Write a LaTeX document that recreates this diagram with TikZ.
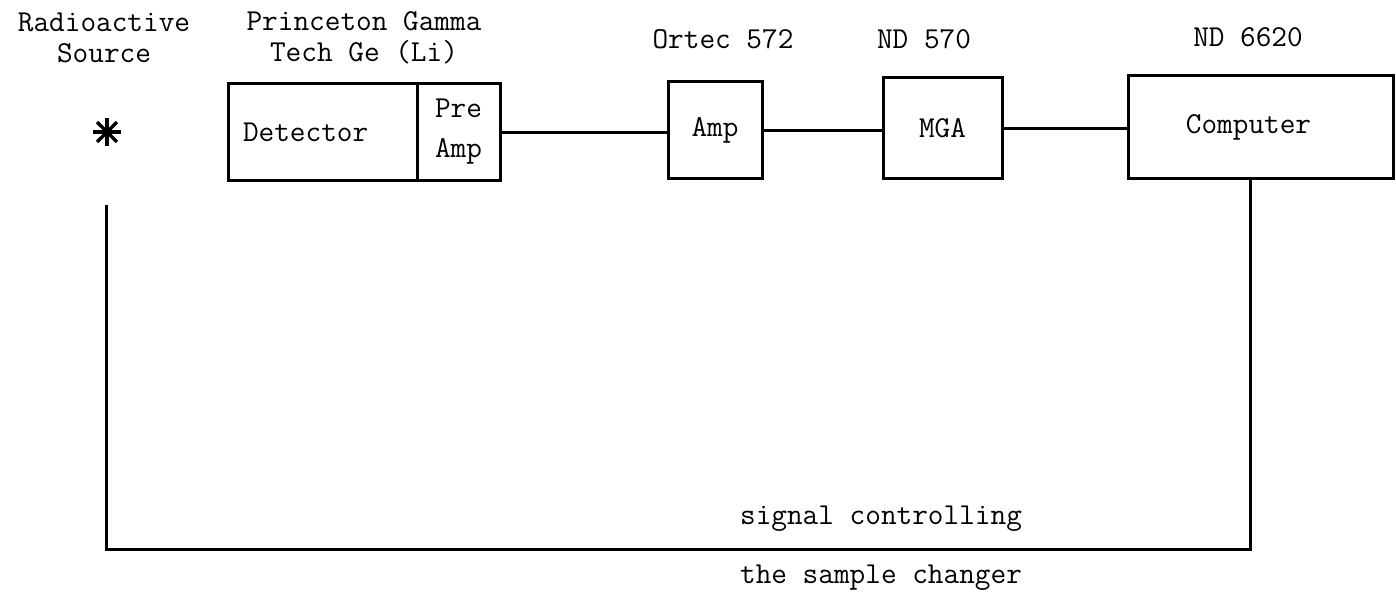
\documentclass[tikz,border=0pt]{standalone}
\usepackage{fontspec}
\newcommand\labfont{\ttfamily\fontsize{15.2}{15.5}\selectfont}
\newcommand\prefont{\ttfamily\fontsize{15.2}{20}\selectfont}
\begin{document}
\begin{tikzpicture}[x=0.5pt,y=-0.5pt,
  box/.style={draw, line width=1.5pt, inner sep=0pt, font=\labfont},
  lab/.style={font=\labfont, inner sep=0pt, align=center},
  wire/.style={line width=1.5pt}]
\useasboundingbox (0,0) rectangle (1396,599);
% source
\coordinate (src) at (107,132);
\foreach \a in {0,45,90,135}
  \draw[line width=1.7pt] (src) ++(\a:7pt) -- ++(\a+180:14pt);
\fill (src) circle (2.6pt);
% boxes
\node[box, minimum height=48pt, text width=79.5pt, inner xsep=7.5pt, align=left] (det) at (322.5,132) {Detector};
\node[box, minimum width=41.5pt, minimum height=48pt, align=center, font=\prefont] (pre) at (458.5,132) {Pre\\Amp};
\node[box, minimum width=47pt, minimum height=48pt] (amp) at (715,130) {Amp};
\node[box, minimum width=59.5pt, minimum height=50pt] (mga) at (942.5,128) {MGA};
\node[box, minimum width=132.5pt, minimum height=51pt] (comp) at (1260.5,127) {\hspace*{-12pt}Computer};
% labels
\node[lab] (srclab) at (104,38) {Radioactive\\Source};
\node[lab] (detlab) at (364,38) {Princeton Gamma\\Tech Ge (Li)};
\node[lab] (amplab) at (723,39) {Ortec 572};
\node[lab] (mgalab) at (924,39) {ND 570};
\node[lab] (complab) at (1248,37) {ND 6620};
\node[lab] (sig1) at (881,519) {signal controlling};
\node[lab] (sig2) at (881,578) {the sample changer};
% wires
\draw[wire] (pre.east) -- (pre.east -| amp.west);
\draw[wire] (amp.east) -- (amp.east -| mga.west);
\draw[wire] (mga.east) -- (mga.east -| comp.west);
\coordinate (fbend) at (106,205);
\draw[wire] ([xshift=-5.25pt]comp.south) -- ++(0,370) -| (fbend);
\end{tikzpicture}
\end{document}
